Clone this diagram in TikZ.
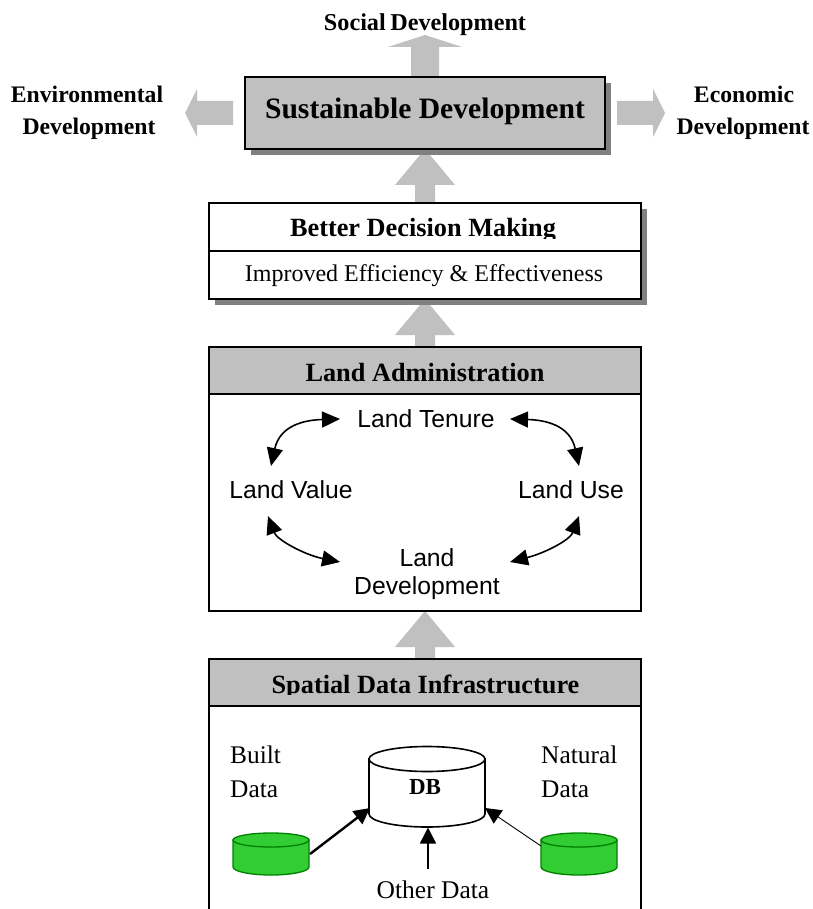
\documentclass[tikz,border=0pt]{standalone}
\usepackage{fontspec}
\setmainfont{Liberation Serif}
\newfontfamily\arialf{Liberation Sans}
\usetikzlibrary{arrows.meta}
\definecolor{bandgray}{RGB}{192,192,192}
\definecolor{shadowgray}{RGB}{128,128,128}
\definecolor{dbgreen}{RGB}{50,205,50}
\definecolor{dbedge}{RGB}{0,128,0}
\tikzset{
  x=1pt,y=-1pt,
  panel/.style={draw=black,line width=1.7pt},
  shadowbox/.style={fill=shadowgray,draw=none},
  blockarrow/.style={fill=bandgray,draw=none},
  txt/.style={inner sep=0pt,anchor=base},
  label/.style={txt,font=\fontsize{23.7}{24}\selectfont\bfseries},
  head/.style={txt,font=\fontsize{26.3}{28}\selectfont\bfseries},
  body/.style={txt,font=\fontsize{25.4}{28}\selectfont},
  sans/.style={txt,font=\fontsize{24.7}{28.5}\selectfont\arialf},
  swap/.style={line width=1.6pt,{Triangle[length=18pt,width=16pt]}-{Triangle[length=18pt,width=16pt]}},
  feed/.style={-{Triangle[length=16pt,width=16pt]}},
  cylA/.style={draw=black,line width=1.6pt,fill=white},
  cylB/.style={draw=dbedge,line width=1.3pt,fill=dbgreen}
}
\newcommand{\uparrowblock}[5]{%
  \fill[blockarrow] (#1,#2) -- (#1+#5,#3) -- (#1+10,#3) -- (#1+10,#4) -- (#1-10,#4) -- (#1-10,#3) -- (#1-#5,#3) -- cycle;}
\begin{document}
\begin{tikzpicture}
\useasboundingbox (0,0) rectangle (812,909);
\fill[white] (0,0) rectangle (812,909);
% block arrows
\fill[blockarrow] (425,35) -- (462,47) -- (439,47) -- (439,77) -- (411,77) -- (411,47) -- (388,47) -- cycle;
\fill[blockarrow] (185,113) -- (197,89) -- (197,101) -- (233,101) -- (233,125) -- (197,125) -- (197,137) -- cycle;
\fill[blockarrow] (665,113) -- (653,89) -- (653,101) -- (617,101) -- (617,125) -- (653,125) -- (653,137) -- cycle;
\uparrowblock{425}{149}{185}{203}{30}
\uparrowblock{425}{299}{335}{347}{30}
\uparrowblock{425}{611}{647}{659}{30}
% sustainable
\fill[shadowbox] (251,83) rectangle (611,155);
\draw[panel,fill=bandgray] (245,77) rectangle (605,149);
\node[txt,font=\fontsize{29.6}{34}\selectfont\bfseries] (sd) at (425,118.3) {Sustainable Development};
\node[txt,font=\fontsize{24.2}{28}\selectfont\bfseries] (social) at (425,30.7) {Social\hspace{4.5pt}Development};
\node[label] (env1) at (87,103) {Environmental};
\node[label] (env2) at (103,135) {\hspace{-28pt}Development};
\node[label] (eco1) at (730,103) {\hspace{28pt}Economic};
\node[label] (eco2) at (743,135) {Development};
% better
\fill[shadowbox] (215,209) rectangle (647,305);
\draw[panel,fill=white] (209,203) rectangle (641,299);
\draw[panel] (209,251) -- (641,251);
\begin{scope}
\clip (209,203) rectangle (641,238.5);
\node[head] (bdm) at (423,236.7) {Better Decision Making};
\end{scope}
\node[txt,font=\fontsize{24}{28}\selectfont] (eff) at (424,281) {Improved Efficiency \& Effectiveness};
% land administration
\fill[bandgray] (209,347) rectangle (641,394);
\draw[panel] (209,347) rectangle (641,611);
\draw[panel] (209,394) -- (641,394);
\node[head] (la) at (425,381) {Land Administration};
\node[sans] (tenure) at (426,427) {Land Tenure};
\node[sans] (value) at (291,498) {Land Value};
\node[sans] (use) at (571,498) {Land Use};
\node[sans,anchor=center,align=center] (dev) at (427,574) {Land\\Development};
\draw[swap] ([xshift=-86pt,yshift=8pt]tenure.base) .. controls +(-35,1) and +(9,-41) .. ([xshift=-20pt,yshift=32pt]value.base);
\draw[swap] ([xshift=84pt,yshift=8pt]tenure.base) .. controls +(35,1) and +(-9,-41) .. ([xshift=8pt,yshift=32pt]use.base);
\draw[swap] ([xshift=-23pt,yshift=-18pt]value.base) .. controls +(9,24) and +(-35,-7) .. ([xshift=-87pt,yshift=12pt]dev.center);
\draw[swap] ([xshift=8pt,yshift=-18pt]use.base) .. controls +(-9,24) and +(35,-9) .. ([xshift=83pt,yshift=12pt]dev.center);
% spatial data
\fill[bandgray] (209,659) rectangle (641,706);
\draw[panel] (209,918) -- (209,659) -- (641,659) -- (641,918);
\draw[panel] (209,706) -- (641,706);
\begin{scope}
\clip (209,659) rectangle (641,694);
\node[head] (sdi) at (425.5,693) {Spatial Data Infrastructure};
\end{scope}
\node[body,anchor=base west] (built1) at (230,763) {Built};
\node[body,anchor=base west] (built2) at (230,797) {Data};
\node[body,anchor=base west] (nat1) at (541,763) {Natural};
\node[body,anchor=base west] (nat2) at (541,797) {Data};
% cylinders
\draw[cylA] (369,759) -- (369,814) arc[start angle=180,end angle=0,x radius=58,y radius=13] -- (485,759) -- cycle;
\draw[cylA] (427,759) ellipse[x radius=58,y radius=12.5];
\node[txt,font=\fontsize{23}{28}\selectfont\bfseries] (db) at (425,794.5) {DB};
\foreach \cx in {271,579}{
  \draw[cylB] (\cx-38,840) -- (\cx-38,867) arc[start angle=180,end angle=0,x radius=38,y radius=8] -- (\cx+38,840) -- cycle;
  \draw[cylB] (\cx,840) ellipse[x radius=38,y radius=7];
}
\coordinate (glo) at (310,854);
\coordinate (gro) at (541,846);
\node[body,font=\fontsize{25.5}{28}\selectfont] (other) at (433,898) {Other Data};
\draw[feed,line width=2.4pt] (glo) -- ([xshift=-55pt,yshift=-13.5pt]db.base);
\draw[feed,line width=0.9pt] (gro) -- ([xshift=60pt,yshift=-13.5pt]db.base);
\draw[feed,line width=1.6pt] ([xshift=-5pt,yshift=29.5pt]other.base) -- ([xshift=3pt,yshift=-33pt]db.base);
\end{tikzpicture}
\end{document}
